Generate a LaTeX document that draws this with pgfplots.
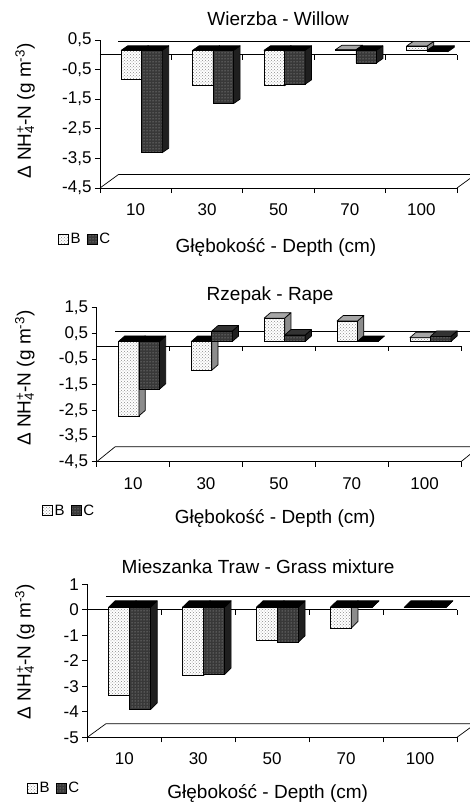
\documentclass[border=0pt]{standalone}
\usepackage{pgfplots}
\usepackage{pgfplotstable}
\pgfplotsset{compat=1.18}
\usepackage{fontspec}
\setmainfont{Liberation Sans}
\usetikzlibrary{patterns}

% changes of NH4-N at each depth: columns B and C
\pgfplotstableread{
x    B      C
0.5  -0.98  -3.46
1.5  -1.18  -1.80
2.5  -1.20  -1.15
3.5   0.02  -0.43
4.5   0.15  -0.05
}\willow
\pgfplotstableread{
x    B      C
0.5  -2.90  -1.86
1.5  -1.12   0.41
2.5   0.91   0.25
3.5   0.80   0.00
4.5   0.15   0.20
}\rape
\pgfplotstableread{
x    B      C
0.5  -3.46  -4.01
1.5  -2.68  -2.64
2.5  -1.31  -1.37
3.5  -0.81   0.00
4.5   0.00   0.00
}\grass

\pgfdeclareplotmark{blank}{}

\tikzset{
  Bfront/.style={fill=white, draw=black, line width=0.7pt,
    postaction={pattern=crosshatch dots, pattern color=black!45}},
  Cfront/.style={fill=black!78, draw=black, line width=0.7pt,
    postaction={pattern=dots, pattern color=black!28}},
}

\pgfplotsset{
  panel/.style={
    scale only axis, axis lines=left, axis line style={-, line width=0.7pt},
    clip=false,
    xmin=0, xmax=5, xtick={0,1,2,3,4,5}, xticklabels={},
    extra x ticks={0.5,1.5,2.5,3.5,4.5},
    extra x tick labels={10,30,50,70,100},
    extra x tick style={major tick length=0pt},
    tick align=outside, major tick length=5pt,
    tick style={black, line width=0.7pt},
    /pgf/number format/assume math mode=true,
    ticklabel style={font=\fontsize{17}{18}\selectfont},
    xticklabel style={yshift=-12pt},
    title style={font=\fontsize{19}{20}\selectfont, anchor=center, yshift=0pt},
    label style={font=\fontsize{19}{20}\selectfont},
    xlabel={Głębokość - Depth (cm)},
    ylabel={Δ NH\rlap{\textsuperscript{+}}\textsubscript{4}-N (g m\textsuperscript{-3})},
    legend columns=2,
    legend image code/.code={\draw[line width=0.7pt,##1] (0pt,-5pt) rectangle (10pt,5pt);},
    legend style={draw=none, fill=none, anchor=west, inner sep=0pt,
      font=\fontsize{15}{16}\selectfont,
      /tikz/every odd column/.append style={column sep=0pt},
      /tikz/every even column/.append style={column sep=4pt}},
  },
  bars/.style={scale only axis, hide axis, xmin=0, xmax=5, clip=false,
    clip marker paths=true},
  % top and side faces of a bar: left edge, right edge (pt from the
  % category centre), top colour above zero, top colour below zero, side colour
  faces/.style n args={5}{
    scatter, only marks, mark=blank,
    visualization depends on={rawy \as \barval},
    scatter/@pre marker code/.code={%
      \pgfmathsetmacro\hh{-1*(\barval)*\yunit}%
      \pgfmathsetmacro\TT{max(0,\hh)}%
      \pgfmathsetmacro\BB{min(0,\hh)}%
      \pgfmathparse{(\barval<=0)?1:0}%
      \ifdim\pgfmathresult pt>0.5pt \def\topcol{#4}\else\def\topcol{#3}\fi
      \filldraw[fill=#5, draw=black, line width=0.7pt, line join=round]
        (#2pt,\BB pt) -- (#2pt+\ddx pt,\BB pt+\ddy pt)
        -- (#2pt+\ddx pt,\TT pt+\ddy pt) -- (#2pt,\TT pt) -- cycle;
      \filldraw[fill=\topcol, draw=black, line width=0.7pt, line join=round]
        (#1pt,\TT pt) -- (#1pt+\ddx pt,\TT pt+\ddy pt)
        -- (#2pt+\ddx pt,\TT pt+\ddy pt) -- (#2pt,\TT pt) -- cycle;
    },
    scatter/@post marker code/.code={},
  },
}

\begin{document}
\begin{tikzpicture}
\useasboundingbox (0pt,-803pt) rectangle (470pt,0pt);

% ---------------- Willow ----------------
\begin{axis}[panel, at={(100pt,-188pt)}, anchor=south west,
  width=357pt, height=148pt, ymin=-4.5, ymax=0.5,
  ytick={-4.5,-3.5,...,0.5},
  yticklabel style={/pgf/number format/.cd, fixed, fixed zerofill, precision=1, use comma},
  title={Wierzba - Willow},
  title style={at={(axis description cs:0.499,1.10)}},
  xlabel style={at={(axis description cs:0.493,-0.399)}, anchor=center},
  ylabel style={at={(axis description cs:-0.21,0.52)}, anchor=center},
  legend style={at={(axis description cs:-0.1185,-0.347)}}]
\addlegendimage{Bfront}\addlegendentry{B}
\addlegendimage{Cfront}\addlegendentry{C}
\draw[line width=0.7pt] (axis cs:0,0) -- (axis cs:5,0);
\draw[line width=0.7pt] (axis cs:1,0) -- ++(0pt,-5pt) (axis cs:2,0) -- ++(0pt,-5pt)
  (axis cs:3,0) -- ++(0pt,-5pt) (axis cs:4,0) -- ++(0pt,-5pt) (axis cs:5,0) -- ++(0pt,-5pt);
\draw[line width=0.7pt] (axis cs:0,0) ++(18.5pt,13.5pt) -- ++(420pt,0pt);
\draw[line width=0.7pt] (axis cs:0,-4.5) -- ++(18.5pt,13.5pt) -- ++(420pt,0pt)
  (axis cs:5,-4.5) -- ++(18.5pt,13.5pt);
\end{axis}
\def\ddx{6.5}\def\ddy{4.5}\def\yunit{29.6}
\begin{axis}[bars, at={(106pt,-183.5pt)}, anchor=south west,
  width=357pt, height=148pt, ymin=-4.5, ymax=0.5]
\addplot[ybar, bar width=20.5pt, bar shift=-10.25pt, Bfront] table[x=x,y=B]{\willow};
\addplot[faces={-20.5}{0}{black!35}{black}{black!45}] table[x=x,y=B]{\willow};
\addplot[ybar, bar width=20.5pt, bar shift=10.25pt, Cfront] table[x=x,y=C]{\willow};
\addplot[faces={0}{20.5}{black!80}{black}{black!88}] table[x=x,y=C]{\willow};
\end{axis}

% ---------------- Rape ----------------
\begin{axis}[panel, at={(96.7pt,-461.7pt)}, anchor=south west,
  width=364.3pt, height=154pt, ymin=-4.5, ymax=1.5,
  ytick={-4.5,-3.5,...,1.5},
  yticklabel style={/pgf/number format/.cd, fixed, fixed zerofill, precision=1, use comma},
  title={Rzepak - Rape},
  title style={at={(axis description cs:0.476,1.039)}},
  xlabel style={at={(axis description cs:0.490,-0.368)}, anchor=center},
  ylabel style={at={(axis description cs:-0.197,0.543)}, anchor=center},
  legend style={at={(axis description cs:-0.151,-0.318)}}]
\addlegendimage{Bfront}\addlegendentry{B}
\addlegendimage{Cfront}\addlegendentry{C}
\draw[line width=0.7pt] (axis cs:0,0) -- (axis cs:5,0);
\draw[line width=0.7pt] (axis cs:1,0) -- ++(0pt,-5pt) (axis cs:2,0) -- ++(0pt,-5pt)
  (axis cs:3,0) -- ++(0pt,-5pt) (axis cs:4,0) -- ++(0pt,-5pt) (axis cs:5,0) -- ++(0pt,-5pt);
\draw[line width=0.7pt] (axis cs:0,0) ++(18.5pt,15pt) -- ++(420pt,0pt);
\draw[line width=0.7pt] (axis cs:0,-4.5) -- ++(18.5pt,15pt) -- ++(420pt,0pt)
  (axis cs:5,-4.5) -- ++(18.5pt,15pt);
\end{axis}
\def\ddx{6.3}\def\ddy{5.5}\def\yunit{25.67}
\begin{axis}[bars, at={(102.5pt,-457pt)}, anchor=south west,
  width=364.3pt, height=154pt, ymin=-4.5, ymax=1.5]
\addplot[ybar, bar width=20.5pt, bar shift=-10.25pt, Bfront] table[x=x,y=B]{\rape};
\addplot[faces={-20.5}{0}{black!35}{black}{black!45}] table[x=x,y=B]{\rape};
\addplot[ybar, bar width=20.5pt, bar shift=10.25pt, Cfront] table[x=x,y=C]{\rape};
\addplot[faces={0}{20.5}{black!80}{black}{black!88}] table[x=x,y=C]{\rape};
\end{axis}

% ---------------- Grass mixture ----------------
\begin{axis}[panel, at={(87.3pt,-737.3pt)}, anchor=south west,
  width=369.7pt, height=153pt, ymin=-5, ymax=1,
  ytick={-5,-4,...,1},
  title={Mieszanka Traw - Grass mixture},
  title style={at={(axis description cs:0.462,1.074)}},
  xlabel style={at={(axis description cs:0.488,-0.370)}, anchor=center},
  ylabel style={at={(axis description cs:-0.169,0.56)}, anchor=center},
  legend style={at={(axis description cs:-0.164,-0.333)}}]
\addlegendimage{Bfront}\addlegendentry{B}
\addlegendimage{Cfront}\addlegendentry{C}
\draw[line width=0.7pt] (axis cs:0,0) -- (axis cs:5,0);
\draw[line width=0.7pt] (axis cs:1,0) -- ++(0pt,-5pt) (axis cs:2,0) -- ++(0pt,-5pt)
  (axis cs:3,0) -- ++(0pt,-5pt) (axis cs:4,0) -- ++(0pt,-5pt) (axis cs:5,0) -- ++(0pt,-5pt);
\draw[line width=0.7pt] (axis cs:0,0) ++(18.5pt,13.5pt) -- ++(420pt,0pt);
\draw[line width=0.7pt] (axis cs:0,-5) -- ++(18.5pt,13.5pt) -- ++(420pt,0pt)
  (axis cs:5,-5) -- ++(18.5pt,13.5pt);
\end{axis}
\def\ddx{6.7}\def\ddy{6.5}\def\yunit{25.5}
\begin{axis}[bars, at={(92.5pt,-734.8pt)}, anchor=south west,
  width=369.7pt, height=153pt, ymin=-5, ymax=1]
\addplot[ybar, bar width=21pt, bar shift=-10.5pt, Bfront] table[x=x,y=B]{\grass};
\addplot[faces={-21}{0}{black!35}{black}{black!45}] table[x=x,y=B]{\grass};
\addplot[ybar, bar width=21pt, bar shift=10.5pt, Cfront] table[x=x,y=C]{\grass};
\addplot[faces={0}{21}{black!80}{black}{black!88}] table[x=x,y=C]{\grass};
\end{axis}
\end{tikzpicture}
\end{document}
